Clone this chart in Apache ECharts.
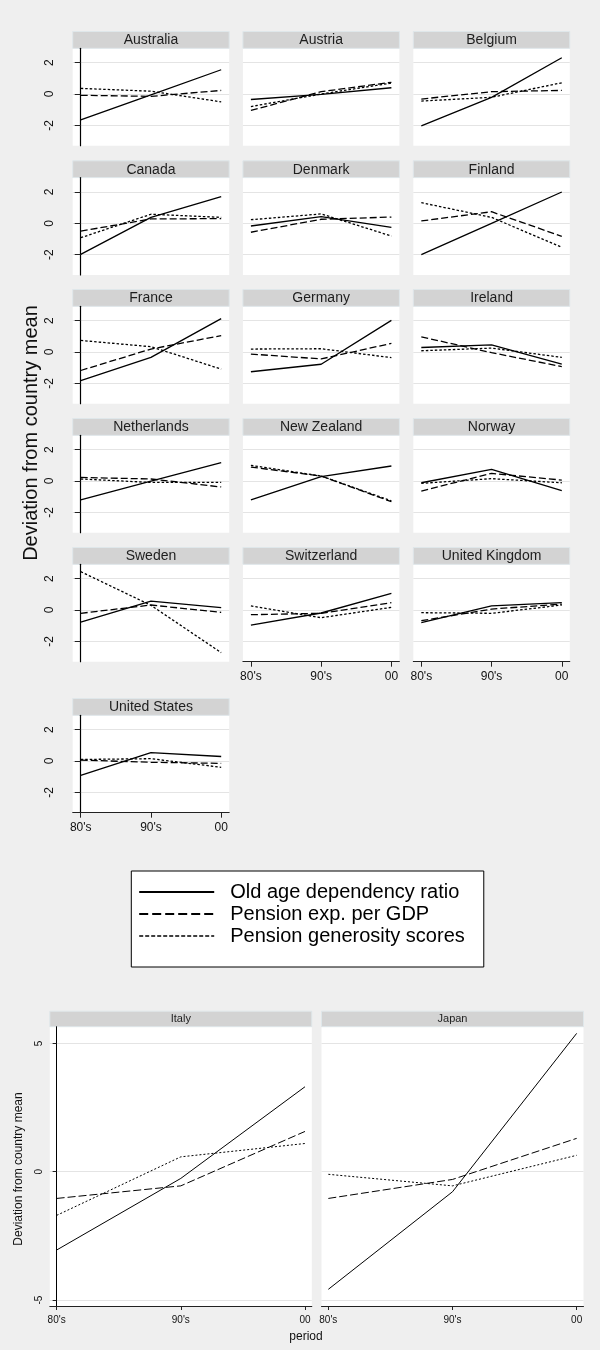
<!DOCTYPE html>
<html>
<head>
<meta charset="utf-8">
<script src="https://cdn.jsdelivr.net/npm/echarts@6/dist/echarts.min.js"></script>
<style>
html,body{margin:0;padding:0;background:#efefef;}
#chart{width:600px;height:1350px;}
</style>
</head>
<body>
<div id="chart"></div>
<script>
// ---------- DATA ----------
const periods = ["80's", "90's", "00"];
const seriesNames = ['Old age dependency ratio', 'Pension exp. per GDP', 'Pension generosity scores'];
const countries = ['Australia', 'Austria', 'Belgium', 'Canada', 'Denmark', 'Finland',
  'France', 'Germany', 'Ireland', 'Netherlands', 'New Zealand', 'Norway',
  'Sweden', 'Switzerland', 'United Kingdom', 'United States'];
const oldAge = [
  [-1.65, -0.05, 1.55], [-0.35, -0.02, 0.40], [-2.04, -0.21, 2.32],
  [-1.98, 0.38, 1.70], [-0.17, 0.43, -0.26], [-2.00, 0.00, 2.00],
  [-1.82, -0.34, 2.13], [-1.26, -0.78, 2.02], [0.29, 0.46, -0.78],
  [-1.21, 0.00, 1.17], [-1.21, 0.28, 0.96], [-0.11, 0.74, -0.62],
  [-0.77, 0.57, 0.15], [-0.96, -0.19, 1.06], [-0.81, 0.26, 0.47],
  [-0.92, 0.54, 0.29]
];
const pensionExp = [
  [-0.08, -0.15, 0.23], [-1.05, 0.15, 0.75], [-0.32, 0.15, 0.23],
  [-0.50, 0.28, 0.30], [-0.57, 0.26, 0.40], [0.15, 0.74, -0.83],
  [-1.18, 0.19, 1.05], [-0.13, -0.44, 0.55], [0.97, -0.04, -0.93],
  [0.23, 0.13, -0.38], [0.89, 0.32, -1.32], [-0.64, 0.49, 0.06],
  [-0.21, 0.32, -0.15], [-0.30, -0.21, 0.47], [-0.68, 0.06, 0.38],
  [0.06, -0.08, -0.15]
];
const generosity = [
  [0.36, 0.18, -0.50], [-0.80, 0.00, 0.70], [-0.45, -0.21, 0.72],
  [-0.92, 0.58, 0.38], [0.23, 0.60, -0.81], [1.32, 0.38, -1.53],
  [0.74, 0.34, -1.09], [0.19, 0.21, -0.36], [0.08, 0.25, -0.34],
  [0.13, -0.09, -0.09], [1.00, 0.32, -1.26], [-0.15, 0.15, -0.11],
  [2.45, 0.30, -2.72], [0.26, -0.49, 0.17], [-0.17, -0.21, 0.32],
  [0.10, 0.15, -0.40]
];
const topYTicks = [-2, 0, 2];

const bottomCountries = ['Italy', 'Japan'];
const bottomOldAge = [[-3.05, -0.26, 3.31], [-4.58, -0.78, 5.39]];
const bottomPensionExp = [[-1.04, -0.55, 1.57], [-1.04, -0.30, 1.30]];
const bottomGenerosity = [[-1.70, 0.58, 1.10], [-0.10, -0.55, 0.64]];
const bottomYTicks = [-5, 0, 5];
const xTickValues = [0, 1, 2];

// ---------- LAYOUT ----------
const FONT = 'Liberation Sans, Arial, Helvetica, sans-serif';
const topColLeft = [72.7, 242.9, 413.3];
const topPanelW = 156.5;
const topRowZero = [94, 223.3, 352, 481, 610, 761];
const topAbove = 45.7, topBelow = 51.7;
const topHeaderH = 16.8;
const botLeft = [49.8, 321.5];
const botW = 262;
const botTop = 1026.7, botH = 279.3, botHeaderH = 15.5;

const grids = [], xAxes = [], yAxes = [], series = [], graphics = [];
const topStyles = [
  {type: 'solid', width: 1.3},
  {type: [7, 3], width: 1.3},
  {type: [2.5, 2], width: 1.3}
];
const botStyles = [
  {type: 'solid', width: 1},
  {type: [8, 3], width: 1},
  {type: [2, 2], width: 1}
];
const topData = [oldAge, pensionExp, generosity];
const botData = [bottomOldAge, bottomPensionExp, bottomGenerosity];

function header(x, y, w, h, text, fs) {
  graphics.push({
    type: 'rect', silent: true,
    shape: {x: x, y: y, width: w, height: h},
    style: {fill: '#d3d3d3', stroke: '#dfe7ea', lineWidth: 1}
  });
  graphics.push({
    type: 'text', silent: true,
    x: x + w / 2, y: y + h / 2 + 0.5,
    style: {text: text, font: fs + 'px ' + FONT, fill: '#1e1e1e', align: 'center', verticalAlign: 'middle'}
  });
}

countries.forEach(function (c, i) {
  const row = Math.floor(i / 3), col = i % 3;
  const zero = topRowZero[row];
  const left = topColLeft[col];
  grids.push({left: left, top: zero - topAbove, width: topPanelW, height: topAbove + topBelow,
    show: true, backgroundColor: '#ffffff', borderWidth: 0, containLabel: false});
  header(left, zero - topAbove - topHeaderH, topPanelW, topHeaderH, c, 14);
  const showX = (i >= 13);
  xAxes.push({
    type: 'value', gridIndex: i, min: -0.114, max: 2.114,
    axisLine: {show: showX, onZero: false, lineStyle: {color: '#222', width: 1}},
    axisTick: {show: showX, length: 5, customValues: xTickValues, lineStyle: {color: '#222'}},
    axisLabel: {show: showX, customValues: xTickValues, margin: 9, fontSize: 12, fontFamily: FONT, color: '#111',
      formatter: function (v) { return periods[Math.round(v)]; }},
    splitLine: {show: false}
  });
  const showY = (col === 0);
  yAxes.push({
    type: 'value', gridIndex: i, min: -3.30, max: 2.92,
    axisLine: {show: showY, lineStyle: {color: '#000', width: 1.2}},
    axisTick: {show: showY, length: 6, customValues: topYTicks, lineStyle: {color: '#222'}},
    axisLabel: {show: showY, customValues: topYTicks, rotate: 90, margin: 17, fontSize: 12, fontFamily: FONT, color: '#111'},
    splitLine: {show: true, lineStyle: {color: '#e4e4e4', width: 1.2}}
  });
  for (let k = 0; k < 3; k++) {
    series.push({
      type: 'line', name: seriesNames[k], xAxisIndex: i, yAxisIndex: i,
      symbol: 'none', silent: true, animation: false, color: '#000',
      lineStyle: {color: '#000', width: topStyles[k].width, type: topStyles[k].type},
      data: topData[k][i].map(function (v, j) { return [xTickValues[j], v]; })
    });
  }
});

bottomCountries.forEach(function (c, b) {
  const gi = grids.length;
  grids.push({left: botLeft[b], top: botTop, width: botW, height: botH,
    show: true, backgroundColor: '#ffffff', borderWidth: 0});
  header(botLeft[b], botTop - botHeaderH, botW, botHeaderH, c, 11);
  xAxes.push({
    type: 'value', gridIndex: gi, min: -0.055, max: 2.055,
    axisLine: {show: true, onZero: false, lineStyle: {color: '#222', width: 1}},
    axisTick: {show: true, length: 4, customValues: xTickValues, lineStyle: {color: '#222'}},
    axisLabel: {show: true, customValues: xTickValues, margin: 9, fontSize: 10, fontFamily: FONT, color: '#111',
      formatter: function (v) { return periods[Math.round(v)]; }},
    splitLine: {show: false}
  });
  yAxes.push({
    type: 'value', gridIndex: gi, min: -5.23, max: 5.65,
    axisLine: {show: b === 0, lineStyle: {color: '#000', width: 1}},
    axisTick: {show: b === 0, length: 4, customValues: bottomYTicks, lineStyle: {color: '#222'}},
    axisLabel: {show: b === 0, customValues: bottomYTicks, rotate: 90, margin: 6, fontSize: 10, fontFamily: FONT, color: '#111'},
    splitLine: {show: true, lineStyle: {color: '#e4e4e4', width: 1}}
  });
  for (let k = 0; k < 3; k++) {
    series.push({
      type: 'line', name: seriesNames[k], xAxisIndex: gi, yAxisIndex: gi,
      symbol: 'none', silent: true, animation: false, color: '#000',
      lineStyle: {color: '#000', width: botStyles[k].width, type: botStyles[k].type},
      data: botData[k][b].map(function (v, j) { return [xTickValues[j], v]; })
    });
  }
});

// axis titles
graphics.push({
  type: 'text', silent: true, x: 31.5, y: 433, rotation: Math.PI / 2,
  style: {text: 'Deviation from country mean', font: '20px ' + FONT, fill: '#111', align: 'center', verticalAlign: 'middle'}
});
graphics.push({
  type: 'text', silent: true, x: 19, y: 1169, rotation: Math.PI / 2,
  style: {text: 'Deviation from country mean', font: '12px ' + FONT, fill: '#111', align: 'center', verticalAlign: 'middle'}
});
graphics.push({
  type: 'text', silent: true, x: 306, y: 1336.5,
  style: {text: 'period', font: '12px ' + FONT, fill: '#111', align: 'center', verticalAlign: 'middle'}
});

const legendStyles = [
  {type: 'solid', width: 1.8},
  {type: [9, 4], width: 1.8},
  {type: [4, 2], width: 1.5}
];

const chart = echarts.init(document.getElementById('chart'), null, {renderer: 'canvas'});
chart.setOption({
  animation: false,
  backgroundColor: '#efefef',
  textStyle: {fontFamily: FONT},
  grid: grids,
  xAxis: xAxes,
  yAxis: yAxes,
  series: series,
  legend: {
    orient: 'vertical', left: 131.3, top: 871,
    selectedMode: false,
    backgroundColor: '#ffffff', borderColor: '#000', borderWidth: 1, borderRadius: 0,
    padding: [11, 19, 21, 7],
    itemWidth: 75, itemHeight: 20, itemGap: 2,
    itemStyle: {opacity: 0},
    textStyle: {fontSize: 20, color: '#000', fontFamily: FONT, padding: [0, 0, 0, 11], lineHeight: 20},
    data: seriesNames.map(function (n, k) {
      return {name: n, itemStyle: {opacity: 0},
        lineStyle: {color: '#000', width: legendStyles[k].width, type: legendStyles[k].type}};
    })
  },
  graphic: graphics
});
</script>
</body>
</html>
